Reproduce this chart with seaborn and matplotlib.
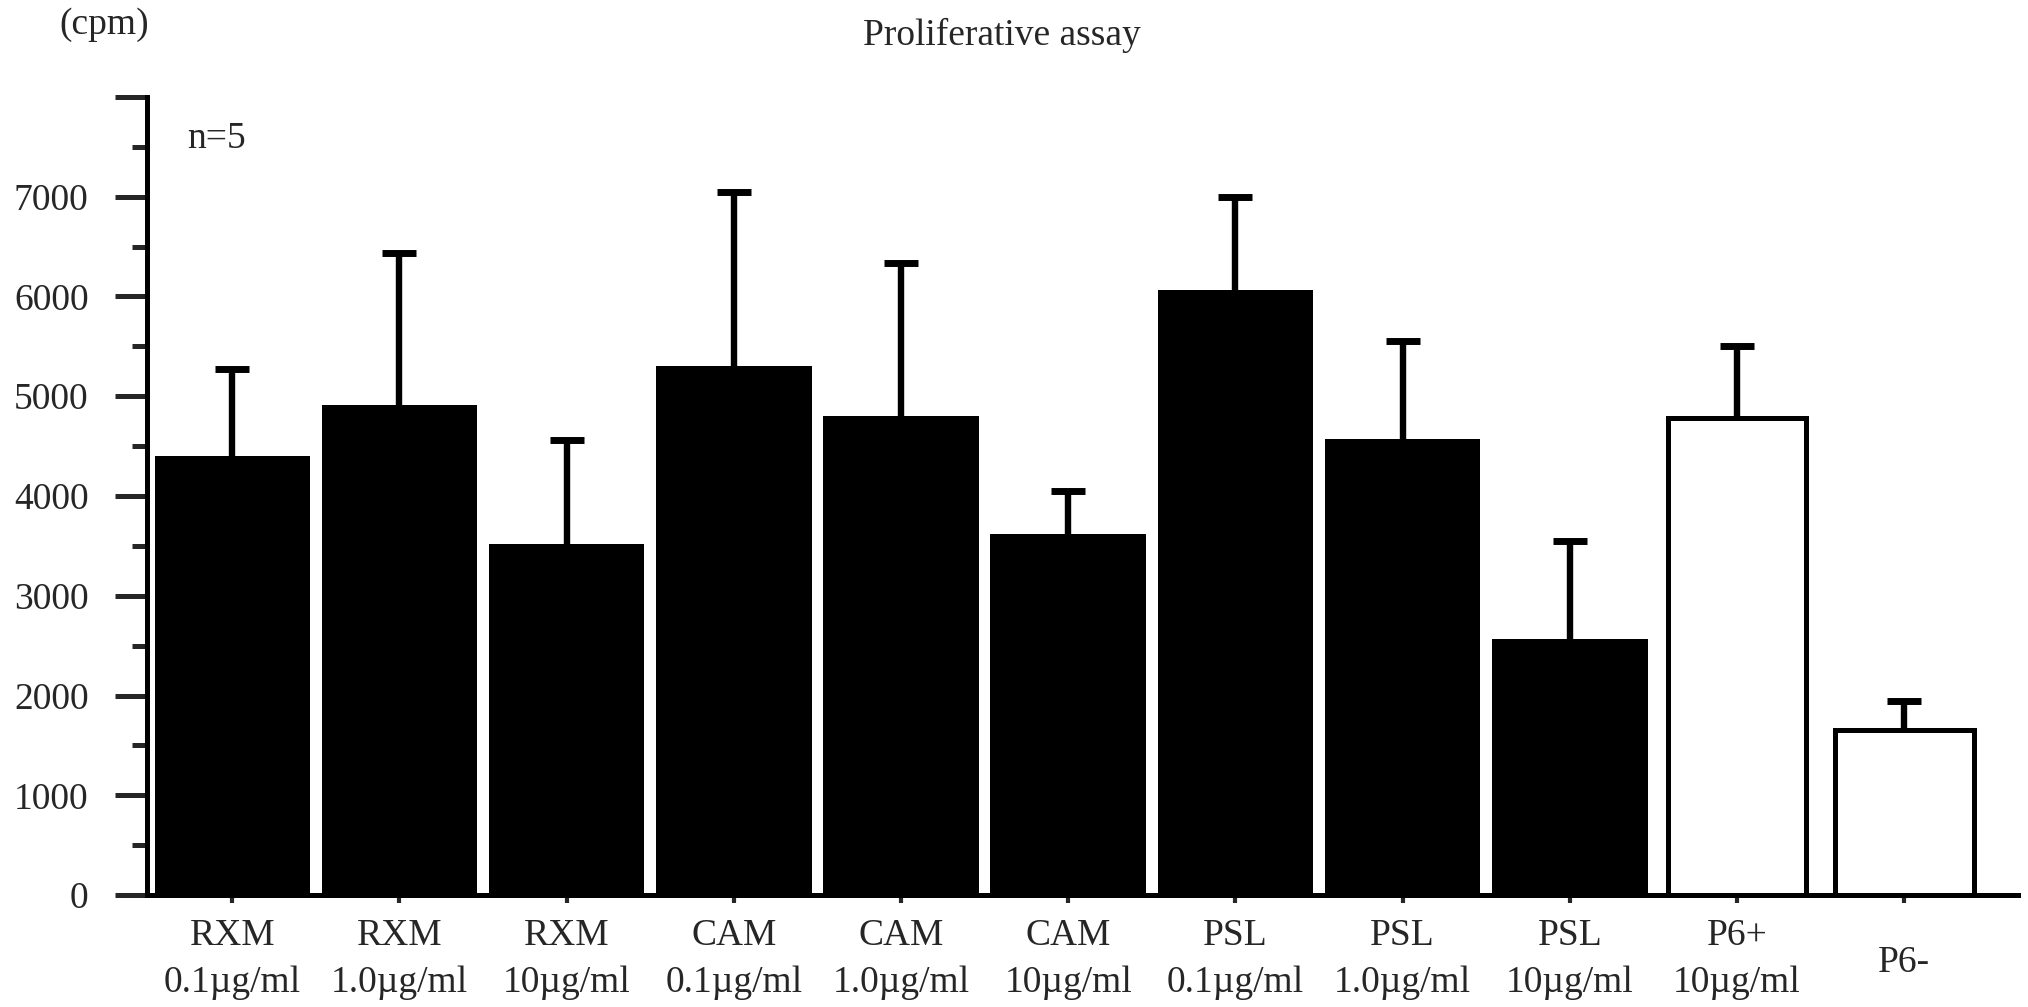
import matplotlib
matplotlib.use("Agg")
import matplotlib.pyplot as plt
import matplotlib.transforms as mtransforms
import numpy as np
import pandas as pd
import seaborn as sns

# Treatment groups (drug + concentration) and proliferation counts (cpm)
categories = [
    "RXM\n0.1\u00b5g/ml", "RXM\n1.0\u00b5g/ml", "RXM\n10\u00b5g/ml",
    "CAM\n0.1\u00b5g/ml", "CAM\n1.0\u00b5g/ml", "CAM\n10\u00b5g/ml",
    "PSL\n0.1\u00b5g/ml", "PSL\n1.0\u00b5g/ml", "PSL\n10\u00b5g/ml",
    "P6+\n10\u00b5g/ml", "P6-",
]
means = [4400, 4910, 3520, 5300, 4800, 3620, 6070, 4570, 2570, 4780, 1650]
upper = [5270, 6440, 4560, 7050, 6340, 4050, 7000, 5550, 3550, 5500, 1940]
controls = ["P6+\n10\u00b5g/ml", "P6-"]

y_major = list(range(0, 8001, 1000))
y_labels = [str(v) for v in range(0, 7001, 1000)] + [""]
y_minor = list(range(500, 8000, 1000))

sns.set_style("ticks")
plt.rcParams["font.family"] = ["Liberation Serif", "DejaVu Serif"]
FS = 27
plt.rcParams["font.size"] = FS

df = pd.DataFrame({"group": categories, "cpm": means, "top": upper})
df["err"] = df["top"] - df["cpm"]
df["kind"] = np.where(df["group"].isin(controls), "control", "drug")

fig = plt.figure(figsize=(20.28, 10.07), dpi=100)
ax = fig.add_axes([0.0725, 0.1112, 0.9225, 0.7925])

LW = 3.6
drug = df[df["kind"] == "drug"]
ctrl = df[df["kind"] == "control"]
sns.barplot(data=drug, x="group", y="cpm", order=categories, color="black",
            width=0.93, linewidth=0, saturation=1, errorbar=None, ax=ax)
sns.barplot(data=ctrl, x="group", y="cpm", order=categories, color="white",
            edgecolor="black", width=0.83, linewidth=LW, saturation=1,
            errorbar=None, ax=ax)

# one-sided (upper) error bars; the cap at the bar top is hidden
xpos = np.arange(len(categories))
eb = ax.errorbar(xpos, df["cpm"], yerr=[np.zeros(len(df)), df["err"]],
                 fmt="none", ecolor="black", elinewidth=4.6, capsize=12.5,
                 capthick=5, zorder=3)
for cap in eb[1]:
    if np.allclose(cap.get_ydata(), df["cpm"].to_numpy()):
        cap.set_visible(False)

ax.set_xlim(-0.51, 10.68)
ax.set_ylim(0, 8000)
ax.set_xlabel("")
ax.set_ylabel("")

ax.set_yticks(y_major)
ax.set_yticklabels(y_labels)
ax.set_yticks(y_minor, minor=True)
ax.tick_params(axis="y", which="major", direction="out", length=23,
               width=LW, pad=19, labelsize=FS)
ax.tick_params(axis="y", which="minor", direction="out", length=11, width=LW)

ax.set_xticks(xpos)
ax.set_xticklabels(categories, linespacing=1.45)
ax.tick_params(axis="x", which="major", direction="out", length=6,
               width=3, pad=11, labelsize=FS)
# single-line label sits between the two text rows
last = ax.get_xticklabels()[-1]
last.set_transform(last.get_transform() +
                   mtransforms.ScaledTranslation(0, -19 / 72, fig.dpi_scale_trans))

sns.despine(ax=ax)
for side in ("left", "bottom"):
    ax.spines[side].set_linewidth(LW)
    ax.spines[side].set_color("black")

fig.text(0.494, 0.965, "Proliferative assay", ha="center", va="center", fontsize=FS)
fig.text(0.0515, 0.975, "(cpm)", ha="center", va="center", fontsize=FS)
fig.text(0.0922, 0.862, "n=5", ha="left", va="center", fontsize=FS)

fig.savefig("out.png", dpi=100, facecolor="white")
